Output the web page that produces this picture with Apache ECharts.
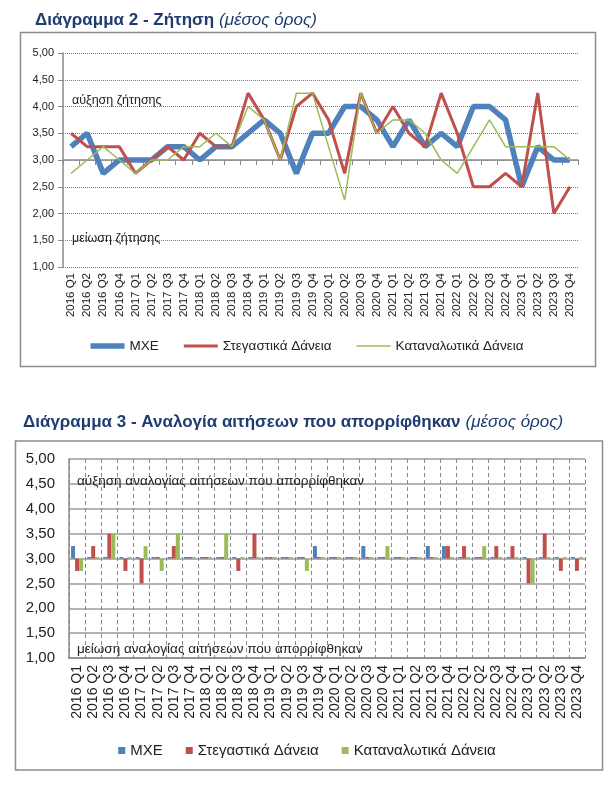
<!DOCTYPE html>
<html>
<head>
<meta charset="utf-8">
<script src="https://cdn.jsdelivr.net/npm/echarts@6/dist/echarts.min.js"></script>
<style>
html,body{margin:0;padding:0;background:#fff;}
#c1{position:absolute;left:0;top:0;width:614px;height:390px;}
#c2{position:absolute;left:0;top:390px;width:614px;height:396px;}
</style>
</head>
<body>
<div id="c1"></div>
<div id="c2"></div>
<script>
const categories = ['2016 Q1','2016 Q2','2016 Q3','2016 Q4','2017 Q1','2017 Q2','2017 Q3','2017 Q4',
  '2018 Q1','2018 Q2','2018 Q3','2018 Q4','2019 Q1','2019 Q2','2019 Q3','2019 Q4',
  '2020 Q1','2020 Q2','2020 Q3','2020 Q4','2021 Q1','2021 Q2','2021 Q3','2021 Q4',
  '2022 Q1','2022 Q2','2022 Q3','2022 Q4','2023 Q1','2023 Q2','2023 Q3','2023 Q4'];
const seriesNames = ['ΜΧΕ','Στεγαστικά Δάνεια','Καταναλωτικά Δάνεια'];

// Chart 2 – Demand (mean)
const demandMXE      = [3.25,3.5,2.75,3.0,3.0,3.0,3.25,3.25,3.0,3.25,3.25,3.5,3.75,3.5,2.75,3.5,3.5,4.0,4.0,3.75,3.25,3.75,3.25,3.5,3.25,4.0,4.0,3.75,2.5,3.25,3.0,3.0];
const demandMortgage = [3.5,3.25,3.25,3.25,2.75,3.0,3.25,3.0,3.5,3.25,3.25,4.25,3.75,3.0,4.0,4.25,3.75,2.75,4.25,3.5,4.0,3.5,3.25,4.25,3.5,2.5,2.5,2.75,2.5,4.25,2.0,2.5];
const demandConsumer = [2.75,3.0,3.25,3.0,2.75,3.0,3.0,3.25,3.25,3.5,3.25,4.0,3.75,3.0,4.25,4.25,3.25,2.25,4.25,3.5,3.75,3.75,3.5,3.0,2.75,3.25,3.75,3.25,3.25,3.25,3.25,3.0];

// Chart 3 – Share of rejected applications (mean)
const rejMXE      = [3.25,3.03,3.03,3.03,3.03,3.03,3.03,3.03,3.03,3.03,3.03,3.03,3.03,3.03,3.03,3.25,3.03,3.03,3.25,3.03,3.03,3.03,3.25,3.25,3.03,3.03,3.03,3.03,3.03,3.03,3.03,3.03];
const rejMortgage = [2.75,3.25,3.5,2.75,2.5,3.03,3.25,3.03,3.03,3.03,2.75,3.5,3.03,3.03,3.03,3.03,3.03,3.03,3.03,3.03,3.03,3.03,3.03,3.25,3.25,3.03,3.25,3.25,2.5,3.5,2.75,2.75];
const rejConsumer = [2.75,3.03,3.5,3.03,3.25,2.75,3.5,3.03,3.03,3.5,3.03,3.03,3.03,3.03,2.75,3.03,3.03,3.03,3.03,3.25,3.03,3.03,3.03,3.03,3.03,3.25,3.03,3.03,2.5,3.03,3.03,3.03];

const yMin = 1, yMax = 5, yStep = 0.5, base = 3;

const colors = ['#4F81BD','#C0504D','#9BBB59'];
const FONT = 'Liberation Sans, Arial, sans-serif';
const TITLE_COLOR = '#1f3b70';
const fmt = v => (v + base).toFixed(2).replace('.', ',');
const shift = arr => arr.map(v => +(v - base).toFixed(4));

// legend line icons (34x14 box) with different stroke thickness
const lineIcon = (y0, y1) => 'path://M0,0 L0.05,0 L0.05,0.05 Z M0,14 L0.05,14 L0.05,13.95 Z M0,' + y0 + ' L34,' + y0 + ' L34,' + y1 + ' L0,' + y1 + ' Z';

// ---------- Chart 1 ----------
const c1 = echarts.init(document.getElementById('c1'), null, {renderer:'canvas'});
c1.setOption({
  animation:false,
  textStyle:{fontFamily:FONT},
  title:{
    left:30, top:6,
    text:'{b|Διάγραμμα 2 - Ζήτηση} {i|(μέσος όρος)}',
    textStyle:{rich:{
      b:{fontFamily:FONT,fontWeight:'bold',fontSize:17,color:TITLE_COLOR},
      i:{fontFamily:FONT,fontStyle:'italic',fontWeight:'normal',fontSize:17,color:TITLE_COLOR}
    }}
  },
  graphic:[
    {type:'rect',shape:{x:20.5,y:32.5,width:575,height:334},style:{fill:'none',stroke:'#8c8c8c',lineWidth:1.5},z:-1},
    {type:'text',left:72,top:94,style:{text:'αύξηση ζήτησης',fontFamily:FONT,fontSize:12.5,fill:'#222'},z:5},
    {type:'text',left:72,top:232,style:{text:'μείωση ζήτησης',fontFamily:FONT,fontSize:12.5,fill:'#222'},z:5}
  ],
  grid:{left:63,right:36,top:53,bottom:123},
  legend:{
    top:334, left:'center',
    itemWidth:34, itemHeight:14, itemGap:25,
    textStyle:{fontFamily:FONT,fontSize:13.5,color:'#222'},
    data:[
      {name:seriesNames[0],icon:lineIcon(4.25,9.75)},
      {name:seriesNames[1],icon:lineIcon(5.5,8.5)},
      {name:seriesNames[2],icon:lineIcon(6.25,7.75)}
    ]
  },
  xAxis:[
    {type:'category',data:categories,boundaryGap:true,position:'bottom',
     axisLine:{show:false,onZero:false},axisTick:{show:false},
     axisLabel:{interval:0,rotate:90,fontSize:11.5,color:'#222',margin:6,fontFamily:FONT},
     splitLine:{show:false}},
    {type:'category',data:categories,boundaryGap:true,position:'bottom',
     axisLine:{show:true,onZero:true,onZeroAxisIndex:0,lineStyle:{color:'#8a8a8a',width:1.5}},
     axisTick:{show:true,interval:0,length:5,lineStyle:{color:'#8a8a8a'}},
     axisLabel:{show:false},splitLine:{show:false}}
  ],
  yAxis:{
    type:'value',min:yMin-base,max:yMax-base,interval:yStep,
    axisLine:{show:true,lineStyle:{color:'#8a8a8a',width:1.5}},
    axisTick:{show:true,length:5,lineStyle:{color:'#8a8a8a'}},
    axisLabel:{formatter:fmt,fontSize:11,color:'#222',margin:9,fontFamily:FONT},
    splitLine:{show:true,lineStyle:{type:'dotted',color:'#777',width:1}}
  },
  series:[
    {name:seriesNames[0],type:'line',data:shift(demandMXE),symbol:'none',color:colors[0],lineStyle:{width:5.5,color:colors[0]},z:2},
    {name:seriesNames[1],type:'line',data:shift(demandMortgage),symbol:'none',color:colors[1],lineStyle:{width:3,color:colors[1]},z:3},
    {name:seriesNames[2],type:'line',data:shift(demandConsumer),symbol:'none',color:colors[2],lineStyle:{width:1.5,color:colors[2]},z:4}
  ]
});

// ---------- Chart 2 ----------
const c2 = echarts.init(document.getElementById('c2'), null, {renderer:'canvas'});
c2.setOption({
  animation:false,
  textStyle:{fontFamily:FONT},
  title:{
    left:18, top:18,
    text:'{b|Διάγραμμα 3 - Αναλογία αιτήσεων που απορρίφθηκαν} {i|(μέσος όρος)}',
    textStyle:{rich:{
      b:{fontFamily:FONT,fontWeight:'bold',fontSize:17,color:TITLE_COLOR},
      i:{fontFamily:FONT,fontStyle:'italic',fontWeight:'normal',fontSize:17,color:TITLE_COLOR}
    }}
  },
  graphic:[
    {type:'rect',shape:{x:15.5,y:51,width:587,height:329},style:{fill:'none',stroke:'#8c8c8c',lineWidth:1.5},z:-1},
    {type:'text',left:77,top:84,style:{text:'αύξηση αναλογίας αιτήσεων που απορρίφθηκαν',fontFamily:FONT,fontSize:13.5,fill:'#222'},z:5},
    {type:'text',left:77,top:252,style:{text:'μείωση αναλογίας αιτήσεων που απορρίφθηκαν',fontFamily:FONT,fontSize:13.5,fill:'#222'},z:5}
  ],
  grid:{left:69,right:29,top:69,bottom:128},
  legend:{
    top:348, left:'center',
    itemWidth:7, itemHeight:7, itemGap:23, icon:'rect',
    textStyle:{fontFamily:FONT,fontSize:15,color:'#222'},
    data:seriesNames
  },
  xAxis:{
    type:'category',data:categories,boundaryGap:true,
    axisLine:{show:true,onZero:false,lineStyle:{color:'#8a8a8a',width:1.5}},
    axisTick:{show:false},
    axisLabel:{interval:0,rotate:90,fontSize:14,color:'#222',margin:7,fontFamily:FONT},
    splitLine:{show:true,interval:0,lineStyle:{type:[4,3],color:'#8a8a8a',width:1}}
  },
  yAxis:{
    type:'value',min:yMin-base,max:yMax-base,interval:yStep,
    axisLine:{show:true,lineStyle:{color:'#8a8a8a',width:1.5}},
    axisTick:{show:false},
    axisLabel:{formatter:fmt,fontSize:15,color:'#222',margin:14,fontFamily:FONT},
    splitLine:{show:true,lineStyle:{type:'solid',color:'#9a9a9a',width:1.5}}
  },
  series:[
    {name:seriesNames[0],type:'bar',data:shift(rejMXE),barWidth:4,barGap:'0%',itemStyle:{color:colors[0]}},
    {name:seriesNames[1],type:'bar',data:shift(rejMortgage),barWidth:4,barGap:'0%',itemStyle:{color:colors[1]}},
    {name:seriesNames[2],type:'bar',data:shift(rejConsumer),barWidth:4,barGap:'0%',itemStyle:{color:colors[2]}}
  ]
});
</script>
</body>
</html>
